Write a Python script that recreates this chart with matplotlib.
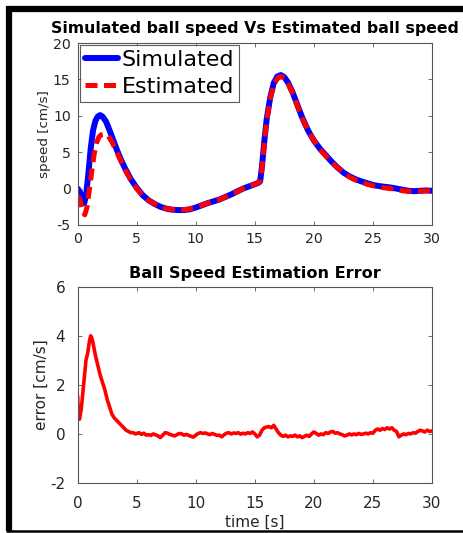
import numpy as np
import matplotlib
matplotlib.use("Agg")
import matplotlib.pyplot as plt
from matplotlib.lines import Line2D

# ---------------- data ----------------
sim_t = [0, 0.2, 0.4, 0.55, 0.7, 0.9, 1.1, 1.3, 1.5, 1.7, 1.9, 2.1, 2.4, 2.7, 3.0,
         3.3, 3.6, 4.0, 4.5, 5.0, 5.5, 6.0, 6.5, 7.0, 7.5, 8.0, 8.5, 9.0, 9.5, 10.0,
         10.5, 11.0, 11.5, 12.0, 12.5, 13.0, 13.5, 14.0, 14.5, 15.0, 15.3, 15.45,
         15.6, 15.8, 16.0, 16.3, 16.6, 16.9, 17.2, 17.5, 17.8, 18.2, 18.6, 19.0,
         19.5, 20.0, 20.5, 21.0, 21.5, 22.0, 22.5, 23.0, 23.5, 24.0, 24.5, 25.0,
         25.5, 26.0, 26.5, 27.0, 27.5, 28.0, 28.5, 29.0, 29.5, 30.0]
sim_v = [0.0, -0.5, -1.6, -2.0, -1.0, 2.0, 5.5, 8.0, 9.3, 9.9, 10.1, 9.9, 9.2, 8.0, 6.7,
         5.4, 4.2, 2.8, 1.3, 0.1, -0.9, -1.6, -2.1, -2.5, -2.75, -2.9, -2.95, -2.95, -2.85, -2.6,
         -2.3, -2.0, -1.75, -1.5, -1.15, -0.8, -0.4, 0.0, 0.3, 0.6, 0.8, 1.0,
         3.0, 6.5, 9.5, 12.5, 14.5, 15.4, 15.6, 15.3, 14.6, 13.2, 11.5, 9.8,
         8.0, 6.6, 5.5, 4.6, 3.7, 2.9, 2.2, 1.7, 1.3, 1.0, 0.75, 0.5,
         0.35, 0.25, 0.15, 0.0, -0.15, -0.3, -0.35, -0.3, -0.25, -0.3]

est_t = [0, 0.2, 0.4, 0.6, 0.8, 1.0, 1.2, 1.4, 1.6, 1.8, 2.0, 2.3, 2.6, 2.9, 3.2,
         3.6, 4.0, 4.5, 5.0, 5.5, 6.0, 6.5, 7.0, 7.5, 8.0, 8.5, 9.0, 9.5, 10.0,
         10.5, 11.0, 11.5, 12.0, 12.5, 13.0, 13.5, 14.0, 14.5, 15.0, 15.3, 15.45,
         15.6, 15.8, 16.0, 16.3, 16.6, 16.9, 17.2, 17.5, 17.8, 18.2, 18.6, 19.0,
         19.5, 20.0, 20.5, 21.0, 21.5, 22.0, 22.5, 23.0, 23.5, 24.0, 24.5, 25.0,
         25.5, 26.0, 26.5, 27.0, 27.5, 28.0, 28.5, 29.0, 29.5, 30.0]
est_v = [-1.0, -1.5, -3.0, -3.6, -2.5, 0.0, 2.5, 4.8, 6.3, 7.1, 7.4, 7.5, 7.2, 6.4, 5.4,
         4.0, 2.6, 1.2, 0.0, -0.95, -1.6, -2.1, -2.45, -2.75, -2.85, -2.9, -2.9, -2.8, -2.6,
         -2.3, -2.0, -1.75, -1.5, -1.15, -0.8, -0.45, 0.0, 0.3, 0.6, 0.85, 1.0,
         2.8, 6.2, 9.3, 12.3, 14.3, 15.1, 15.4, 15.2, 14.5, 13.1, 11.4, 9.7,
         8.0, 6.6, 5.4, 4.5, 3.6, 2.9, 2.2, 1.6, 1.2, 0.9, 0.6, 0.4,
         0.25, 0.1, 0.0, -0.1, -0.3, -0.35, -0.35, -0.35, -0.3, -0.35]

err_t_head = [0, 0.05, 0.15, 0.3, 0.5, 0.7, 0.85, 1.0, 1.1, 1.2, 1.3, 1.5, 1.7, 1.9,
              2.1, 2.3, 2.5, 2.7, 2.9, 3.1, 3.3, 3.5, 3.7, 3.9, 4.1, 4.3, 4.5, 4.7, 4.9]
err_v_head = [1.5, 0.8, 0.6, 1.0, 2.0, 3.0, 3.3, 3.8, 4.0, 3.9, 3.7, 3.2, 2.8, 2.4,
              2.1, 1.8, 1.4, 1.1, 0.8, 0.65, 0.55, 0.45, 0.35, 0.25, 0.15, 0.1, 0.05, 0.05, 0.0]
err_v_tail = [0.02, 0.05, -0.02, 0.03, -0.05, -0.03, -0.06, 0.0, -0.04, -0.08,
              -0.15, -0.05, 0.05, 0.03, -0.02, -0.05, -0.08, -0.03, 0.02, 0.0,
              -0.05, -0.02, -0.06, -0.1, -0.13, -0.05, 0.02, 0.05, 0.02, 0.04,
              0.0, -0.03, 0.02, -0.02, -0.06, -0.05, -0.12, -0.03, 0.03, 0.05,
              0.0, 0.04, 0.02, 0.05, -0.01, 0.03, 0.0, 0.05, 0.02, 0.08,
              0.0, -0.12, -0.05, 0.15, 0.25, 0.28, 0.3, 0.25, 0.35, 0.2,
              0.05, -0.05, -0.1, -0.05, -0.12, -0.08, -0.1, -0.05, -0.12, -0.08,
              -0.15, -0.1, -0.05, -0.1, 0.0, 0.08, 0.02, -0.05, 0.0, -0.03,
              0.05, 0.02, 0.08, 0.1, 0.03, 0.05, 0.0, -0.03, -0.08, -0.05,
              0.0, -0.04, 0.0, -0.03, 0.02, -0.02, 0.0, 0.03, 0.0, 0.05,
              0.03, 0.15, 0.2, 0.15, 0.22, 0.18, 0.25, 0.2, 0.25, 0.15,
              0.1, -0.12, -0.05, 0.0, -0.03, 0.02, 0.0, 0.05, 0.03, 0.1,
              0.15, 0.12, 0.08, 0.15, 0.1, 0.12]
err_t_tail = list(np.linspace(5.0, 30.0, len(err_v_tail)))

err_t = err_t_head + err_t_tail
err_v = err_v_head + err_v_tail

xticks = [0, 5, 10, 15, 20, 25, 30]
yticks_top = [-5, 0, 5, 10, 15, 20]
yticks_bot = [-2, 0, 2, 4, 6]

# ---------------- figure ----------------
plt.rcParams['font.family'] = ['DejaVu Sans']
plt.rcParams['axes.unicode_minus'] = False

W, H = 464, 533
fig = plt.figure(figsize=(W / 100, H / 100), dpi=100)

def fx(px):
    return px / W

def fy(py):
    return 1 - py / H

# frame border
fig.add_artist(Line2D([fx(9), fx(9)], [fy(6), fy(531)], color='black', lw=4.5,
                      transform=fig.transFigure, solid_capstyle='butt'))
fig.add_artist(Line2D([fx(6), 1.0], [fy(9), fy(9)], color='black', lw=4.5,
                      transform=fig.transFigure, solid_capstyle='butt'))
fig.add_artist(Line2D([fx(6), 1.0], [fy(531), fy(531)], color='black', lw=1.8,
                      transform=fig.transFigure, solid_capstyle='butt'))

axcol = '#555555'
tickcol = '#262626'

def style(ax, fs, pad):
    for s in ax.spines.values():
        s.set_color(axcol)
        s.set_linewidth(0.8)
    ax.tick_params(direction='in', length=3, width=0.6, colors=axcol,
                   top=True, right=True, labelsize=fs, labelcolor=tickcol, pad=pad)

ax1 = fig.add_axes([fx(77.7), fy(225), fx(432) - fx(77.7), fy(43) - fy(225)])
ax1.plot(sim_t, sim_v, color='#0000FF', lw=4.3, label='Simulated', solid_capstyle='round')
ax1.plot(est_t, est_v, color='#FF0000', lw=3.6, label='Estimated',
         dashes=(2.4, 1.3))
ax1.set_xlim(0, 30)
ax1.set_ylim(-5, 20)
ax1.set_xticks(xticks)
ax1.set_yticks(yticks_top)
style(ax1, 10.2, 5)
ax1.set_ylabel('speed [cm/s]', fontsize=9.7, color=tickcol, labelpad=1)
ax1.set_title('Simulated ball speed Vs Estimated ball speed', fontsize=11.3,
              fontweight='bold', pad=7)
leg = ax1.legend(loc='upper left', fontsize=16, handlelength=1.5, handletextpad=0.15,
                 labelspacing=0.3, borderpad=0.22, borderaxespad=0.1,
                 frameon=True, fancybox=False)
leg.get_frame().set_edgecolor('#333333')
leg.get_frame().set_linewidth(0.8)

ax2 = fig.add_axes([fx(77.7), fy(483), fx(432) - fx(77.7), fy(286.7) - fy(483)])
ax2.plot(err_t, err_v, color='#FF0000', lw=2.6)
ax2.set_xlim(0, 30)
ax2.set_ylim(-2, 6)
ax2.set_xticks(xticks)
ax2.set_yticks(yticks_bot)
style(ax2, 11, 9)
ax2.set_ylabel('error [cm/s]', fontsize=11, color=tickcol, labelpad=1)
ax2.set_xlabel('time [s]', fontsize=11, color=tickcol, labelpad=3)
ax2.set_title('Ball Speed Estimation Error', fontsize=11.6, fontweight='bold', pad=6)

fig.savefig('out.png', dpi=100)
